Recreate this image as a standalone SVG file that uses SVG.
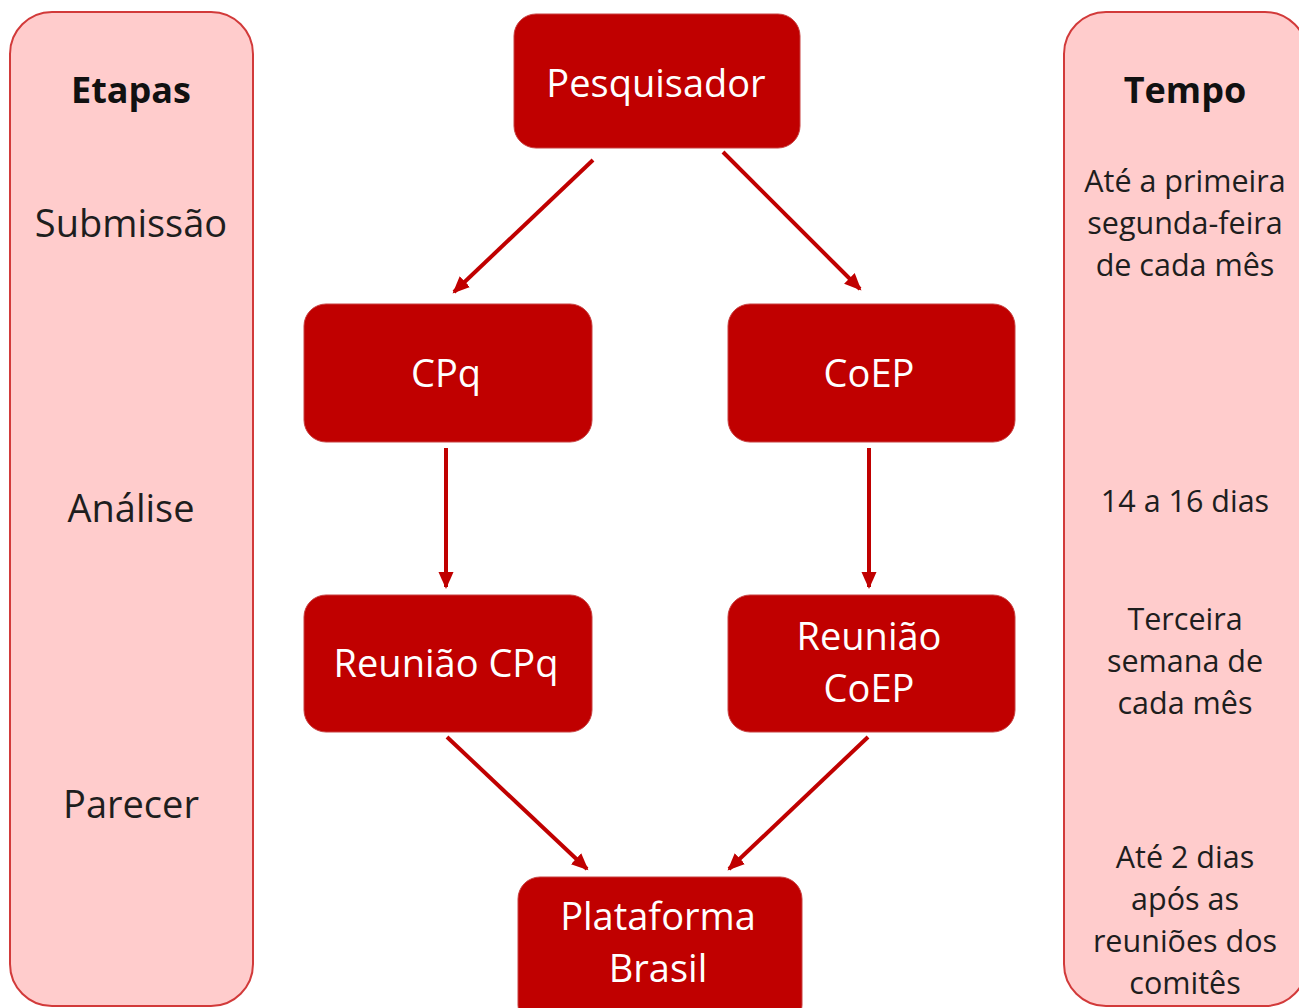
<svg xmlns="http://www.w3.org/2000/svg" width="1299" height="1008" viewBox="0 0 1299 1008">
<defs>
<style>
.panel{fill:#ffcccc;stroke:#d23a3a;stroke-width:2}
.box{fill:#c00000;stroke:#c84040;stroke-width:1}
.bt{font-family:"Open Sans","Liberation Sans",sans-serif;font-size:38px;fill:#ffffff;text-anchor:middle}
.pt{font-family:"Open Sans","Liberation Sans",sans-serif;font-size:38px;fill:#1e1e1e;text-anchor:middle}
.ph{font-family:"Open Sans","Liberation Sans",sans-serif;font-size:36px;font-weight:bold;fill:#111111;text-anchor:middle}
.rt{font-family:"Open Sans","Liberation Sans",sans-serif;font-size:30.5px;fill:#1e1e1e;text-anchor:middle}
.conn{stroke:#c00000;stroke-width:4;fill:none;marker-end:url(#ah)}
</style>
<marker id="ah" markerUnits="userSpaceOnUse" markerWidth="20" markerHeight="18" refX="15" refY="9" orient="auto">
<path d="M0,1.5 L17,9 L0,16.5 Z" fill="#c00000"/>
</marker>
</defs>
<g id="panel-etapas">
<rect class="panel" x="10" y="12" width="243" height="994" rx="42"/>
<text class="ph" x="131" y="103">Etapas</text>
<text class="pt" x="131" y="237">Submissão</text>
<text class="pt" x="131" y="522">Análise</text>
<text class="pt" x="131" y="818">Parecer</text>
</g>
<g id="panel-tempo">
<rect class="panel" x="1064" y="12" width="243" height="994" rx="42"/>
<text class="ph" x="1185" y="103">Tempo</text>
<text class="rt" x="1185" y="192">Até a primeira</text>
<text class="rt" x="1185" y="234">segunda-feira</text>
<text class="rt" x="1185" y="276">de cada mês</text>
<text class="rt" x="1185" y="512">14 a 16 dias</text>
<text class="rt" x="1185" y="630">Terceira</text>
<text class="rt" x="1185" y="672">semana de</text>
<text class="rt" x="1185" y="714">cada mês</text>
<text class="rt" x="1185" y="868">Até 2 dias</text>
<text class="rt" x="1185" y="910">após as</text>
<text class="rt" x="1185" y="952">reuniões dos</text>
<text class="rt" x="1185" y="994">comitês</text>
</g>
<g id="node-pesquisador">
<rect class="box" x="514" y="14" width="286" height="134" rx="22"/>
<text class="bt" x="656" y="97">Pesquisador</text>
</g>
<g id="node-cpq">
<rect class="box" x="304" y="304" width="288" height="138" rx="22"/>
<text class="bt" x="446" y="387">CPq</text>
</g>
<g id="node-coep">
<rect class="box" x="728" y="304" width="287" height="138" rx="22"/>
<text class="bt" x="869" y="387">CoEP</text>
</g>
<g id="node-reuniao-cpq">
<rect class="box" x="304" y="595" width="288" height="137" rx="22"/>
<text class="bt" x="446" y="677">Reunião CPq</text>
</g>
<g id="node-reuniao-coep">
<rect class="box" x="728" y="595" width="287" height="137" rx="22"/>
<text class="bt" x="869" y="650">Reunião</text>
<text class="bt" x="869" y="702">CoEP</text>
</g>
<g id="node-plataforma">
<rect class="box" x="518" y="877" width="284" height="150" rx="22"/>
<text class="bt" x="658" y="930">Plataforma</text>
<text class="bt" x="658" y="982">Brasil</text>
</g>
<g id="connectors">
<line class="conn" x1="593" y1="160" x2="454" y2="292"/>
<line class="conn" x1="723" y1="152" x2="860" y2="289"/>
<line class="conn" x1="446" y1="448" x2="446" y2="587"/>
<line class="conn" x1="869" y1="448" x2="869" y2="587"/>
<line class="conn" x1="447" y1="737" x2="587" y2="869"/>
<line class="conn" x1="868" y1="737" x2="729" y2="869"/>
</g>
</svg>
